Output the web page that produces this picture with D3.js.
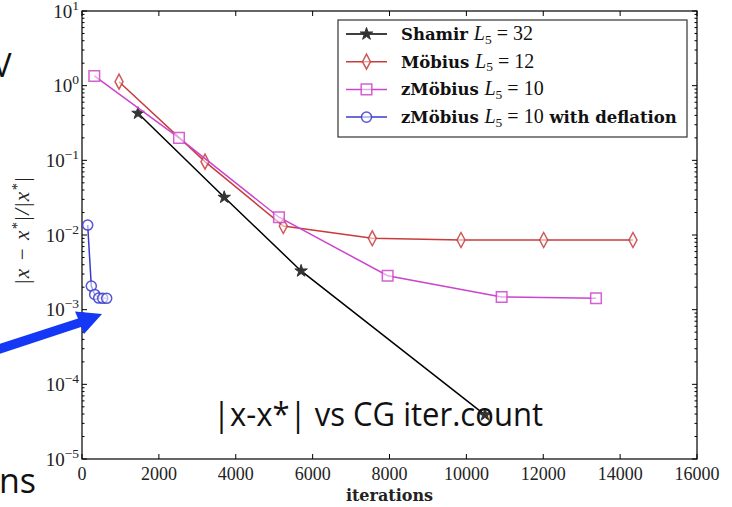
<!DOCTYPE html>
<html>
<head>
<meta charset="utf-8">
<script src="https://cdn.jsdelivr.net/npm/d3@7"></script>
<style>
  body { margin: 0; background: #fff; }
  svg { display: block; }
</style>
</head>
<body>
<svg id="chart" width="732" height="507"></svg>
<script>
// series: [iterations, relative error]
var shamir   = [[1457, 0.427], [3700, 0.032], [5700, 0.0033], [10484, 3.9e-5]];
var mobius   = [[963, 1.13], [3200, 0.096], [5237, 0.0132], [7552, 0.00904], [9860, 0.00857], [12011, 0.00857], [14334, 0.00857]];
var zmobius  = [[320, 1.35], [2523, 0.20], [5125, 0.0173], [7952, 0.00285], [10918, 0.00148], [13372, 0.00142]];
var deflated = [[148, 0.0136], [242, 0.00207], [330, 0.0016], [434, 0.00143], [538, 0.00142], [642, 0.00142]];

var xTicks = [0, 2000, 4000, 6000, 8000, 10000, 12000, 14000, 16000];
var yExps  = [1, 0, -1, -2, -3, -4, -5];

var series = [
  {name: "Shamir", L5: "32", extra: "", data: shamir, color: "#000000", marker: "star"},
  {name: "Möbius", L5: "12", extra: "", data: mobius, color: "#c83c3c", marker: "diamond"},
  {name: "zMöbius", L5: "10", extra: "", data: zmobius, color: "#cc44cc", marker: "square"},
  {name: "zMöbius", L5: "10", extra: " with deflation", data: deflated, color: "#3a3acc", marker: "circle"}
];

var svg = d3.select("#chart");
var plotL = 82, plotR = 697, plotT = 11, plotB = 459;

var x = d3.scaleLinear().domain([0, 16000]).range([plotL, plotR]);
var y = d3.scaleLog().domain([1e-5, 10]).range([plotB, plotT]);

var tickFont = "Liberation Serif";
var textFont = "DejaVu Serif";

// frame
svg.append("rect")
  .attr("x", plotL).attr("y", plotT)
  .attr("width", plotR - plotL).attr("height", plotB - plotT)
  .attr("fill", "none").attr("stroke", "#000").attr("stroke-width", 1.2);

var ticks = svg.append("g").attr("stroke", "#000").attr("stroke-width", 1);

// x ticks, inward on bottom and top
xTicks.forEach(function(t) {
  ticks.append("line").attr("x1", x(t)).attr("x2", x(t)).attr("y1", plotB).attr("y2", plotB - 5);
  ticks.append("line").attr("x1", x(t)).attr("x2", x(t)).attr("y1", plotT).attr("y2", plotT + 5);
});

// y ticks, major + minor, inward on left and right
yExps.forEach(function(e) {
  var v = Math.pow(10, e);
  ticks.append("line").attr("x1", plotL).attr("x2", plotL + 5).attr("y1", y(v)).attr("y2", y(v));
  ticks.append("line").attr("x1", plotR).attr("x2", plotR - 5).attr("y1", y(v)).attr("y2", y(v));
  if (e < 1) {
    for (var m = 2; m < 10; m++) {
      var mv = m * v;
      ticks.append("line").attr("x1", plotL).attr("x2", plotL + 2.5).attr("y1", y(mv)).attr("y2", y(mv));
      ticks.append("line").attr("x1", plotR).attr("x2", plotR - 2.5).attr("y1", y(mv)).attr("y2", y(mv));
    }
  }
});

// x tick labels
svg.append("g").selectAll("text").data(xTicks).join("text")
  .attr("x", function(d) { return x(d); })
  .attr("y", 480)
  .attr("text-anchor", "middle")
  .attr("font-family", tickFont).attr("font-size", 18)
  .attr("fill", "#222")
  .text(function(d) { return d; });

// y tick labels 10^e
var yl = svg.append("g").selectAll("text").data(yExps).join("text")
  .attr("x", 79)
  .attr("y", function(d) { return y(Math.pow(10, d)) + 6.5; })
  .attr("text-anchor", "end")
  .attr("font-family", tickFont).attr("font-size", 19)
  .attr("fill", "#222");
yl.append("tspan").text("10");
yl.append("tspan").attr("dy", -8).attr("font-size", 13.5)
  .text(function(d) { return d < 0 ? "\u2212" + (-d) : d; });

// axis labels
svg.append("text")
  .attr("x", x(8000)).attr("y", 501)
  .attr("text-anchor", "middle")
  .attr("font-family", textFont).attr("font-weight", "bold").attr("font-size", 16)
  .attr("fill", "#222")
  .text("iterations");

var ylab = svg.append("text")
  .attr("transform", "translate(29,231) rotate(-90)")
  .attr("text-anchor", "middle")
  .attr("font-family", tickFont).attr("font-style", "italic").attr("font-size", 21)
  .attr("textLength", 108).attr("lengthAdjust", "spacing")
  .attr("fill", "#222");
ylab.append("tspan").text("|x \u2212 x");
ylab.append("tspan").attr("dy", -7).attr("font-size", 14).text("*");
ylab.append("tspan").attr("dy", 7).text("|/|x");
ylab.append("tspan").attr("dy", -7).attr("font-size", 14).text("*");
ylab.append("tspan").attr("dy", 7).text("|");

// marker shapes
function markerPath(type) {
  if (type === "star") return d3.symbol(d3.symbolStar, 48)();
  if (type === "square") return "M-5.3,-5.3H5.3V5.3H-5.3Z";
  if (type === "diamond") return "M0,-7.5L4,0L0,7.5L-4,0Z";
  return d3.symbol(d3.symbolCircle, 80)();
}

function drawMarker(g, type, color, px, py) {
  var p = g.append("path")
    .attr("d", markerPath(type))
    .attr("transform", "translate(" + px + "," + py + ")")
    .attr("stroke-width", 1.5);
  if (type === "star") p.attr("fill", "#333").attr("stroke", "#333").attr("stroke-width", 1);
  else p.attr("fill", "#fff").attr("fill-opacity", 0.55).attr("stroke", color).attr("stroke-opacity", 0.85);
}

var line = d3.line()
  .x(function(d) { return x(d[0]); })
  .y(function(d) { return y(d[1]); });

var plot = svg.append("g");
series.forEach(function(s) {
  plot.append("path")
    .attr("d", line(s.data))
    .attr("fill", "none")
    .attr("stroke", s.color)
    .attr("stroke-width", 1.5);
  s.data.forEach(function(d) { drawMarker(plot, s.marker, s.color, x(d[0]), y(d[1])); });
});

// legend
var lg = svg.append("g");
lg.append("rect")
  .attr("x", 338).attr("y", 20).attr("width", 349).attr("height", 117)
  .attr("fill", "#fff").attr("stroke", "#333").attr("stroke-width", 1.2);
series.forEach(function(s, i) {
  var ry = 34 + i * 27.7;
  lg.append("line").attr("x1", 346).attr("x2", 387).attr("y1", ry).attr("y2", ry)
    .attr("stroke", s.color).attr("stroke-width", 1.5);
  drawMarker(lg, s.marker, s.color, 366.5, ry);
  var t = lg.append("text").attr("x", 401).attr("y", ry + 6)
    .attr("font-family", textFont).attr("font-size", 16.5).attr("fill", "#111");
  t.append("tspan").attr("font-weight", "bold").text(s.name + " ");
  t.append("tspan").attr("font-family", tickFont).attr("font-style", "italic").attr("font-size", 20).text("L");
  t.append("tspan").attr("font-family", tickFont).attr("font-size", 13.5).attr("dy", 3.5).text("5");
  t.append("tspan").attr("font-family", tickFont).attr("font-size", 20).attr("dy", -3.5).text(" = " + s.L5);
  if (s.extra) t.append("tspan").attr("font-weight", "bold").text(s.extra);
});

// slide overlay: annotation text, arrow and cut-off words
svg.append("text")
  .attr("x", 213).attr("y", 426)
  .attr("font-family", "Open Sans").attr("font-size", 32)
  .attr("textLength", 330).attr("lengthAdjust", "spacingAndGlyphs")
  .attr("fill", "#111")
  .text("|x-x*| vs CG iter.count");

svg.append("text")
  .attr("x", 2).attr("y", 77).attr("text-anchor", "middle")
  .attr("font-family", "Open Sans").attr("font-size", 32).attr("fill", "#111")
  .text("V");

svg.append("text")
  .attr("x", -1).attr("y", 493)
  .attr("font-family", "Open Sans").attr("font-size", 34).attr("fill", "#111")
  .text("ns");

svg.append("path")
  .attr("d", "M-5,345.5L78,318.5L75,311.5L102,314L84,334L81,327L-2,354.5Z")
  .attr("fill", "#1438f5");
</script>
</body>
</html>
